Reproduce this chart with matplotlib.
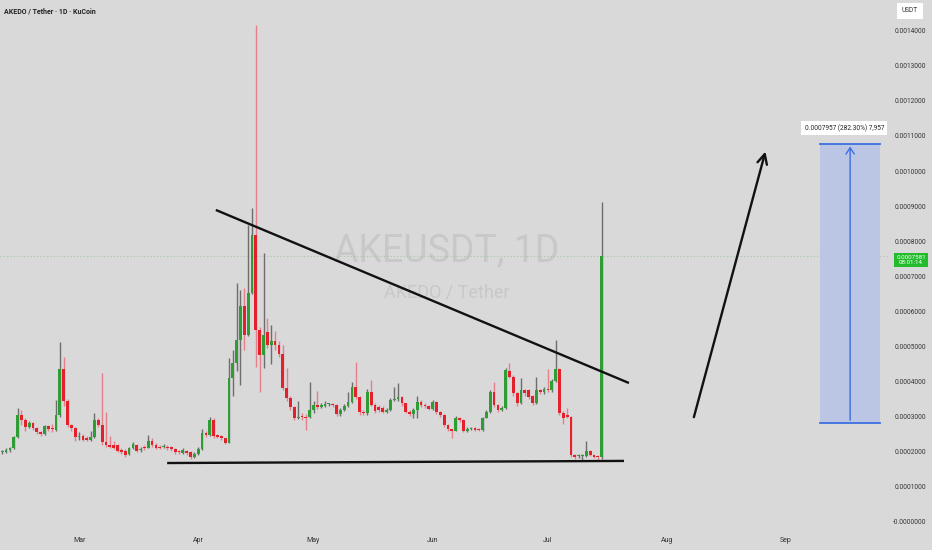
"""AKEDO / Tether daily candles with breakout drawing, TradingView style."""
import numpy as np
import pandas as pd
import matplotlib
matplotlib.use("Agg")
import matplotlib.pyplot as plt
import matplotlib.dates as mdates
from matplotlib.transforms import blended_transform_factory

# daily candles, prices in units of 1e-4 USDT
first_day = "2025-02-09"
opens = [
    2.0, 2.0, 2.05, 2.1, 2.43, 3.06, 2.9, 2.72, 2.83, 2.68, 2.55, 2.5, 2.73, 2.66, 2.62, 3.06, 4.36, 3.46, 2.76, 2.68,
    2.42, 2.45, 2.4, 2.35, 2.43, 2.9, 2.76, 2.27, 2.2, 2.18, 2.18, 2.05, 2.03, 1.95, 2.1, 2.18, 2.05, 2.12, 2.12, 2.32,
    2.2, 2.13, 2.13, 2.13, 2.13, 2.08, 2.0, 1.98, 2.03, 1.99, 1.86, 1.95,
    2.08, 2.53, 2.48, 2.9, 2.47, 2.45, 2.39, 2.26, 4.09, 4.52, 5.19, 6.15, 5.33, 6.53, 8.18, 5.47, 4.76, 5.4,
    5.04, 5.16, 5.04, 4.8, 3.82, 3.53, 3.28, 2.97, 3.02, 3.0, 2.98, 3.19, 3.33, 3.29, 3.31, 3.35, 3.36, 3.33, 3.08, 3.2,
    3.3, 3.43, 3.86, 3.57, 3.12, 3.1, 3.71, 3.33, 3.28, 3.25, 3.13, 3.2, 3.48, 3.5,
    3.57, 3.38, 3.14, 3.07, 3.2, 3.43, 3.33, 3.3, 3.23, 3.43, 3.13, 3.05, 2.76, 2.64, 2.6, 2.97, 2.9, 2.6, 2.65, 2.67,
    2.64, 2.62, 2.97, 3.14, 3.71, 3.33, 3.2, 3.25, 4.3, 4.14, 3.67, 3.38, 3.76, 3.76, 3.6, 3.38, 3.76, 3.7, 3.8, 3.75,
    4.03, 4.35, 3.11, 3.05, 3.0, 1.91, 1.87, 1.88, 1.88, 2.03, 1.92, 1.86, 1.85,
]
highs = [
    2.05, 2.1, 2.15, 2.45, 3.25, 3.2, 2.95, 2.88, 2.85, 2.7, 2.6, 2.76, 2.76, 2.78, 3.47, 5.14, 4.7, 3.5, 2.8, 2.7,
    2.55, 2.5, 2.45, 2.6, 3.1, 2.95, 4.24, 3.14, 2.45, 2.3, 2.22, 2.1, 2.08, 2.15, 2.28, 2.22, 2.15, 2.2, 2.47, 2.38,
    2.25, 2.2, 2.22, 2.18, 2.16, 2.12, 2.05, 2.1, 2.06, 2.02, 2.0, 2.15,
    2.65, 2.6, 3.0, 2.95, 2.5, 2.48, 2.4, 4.67, 4.9, 6.8, 6.6, 6.67, 8.46, 8.94, 14.16, 5.55, 7.65, 5.8,
    5.6, 5.45, 5.15, 5.05, 4.4, 3.6, 3.3, 3.45, 3.1, 3.08, 3.98, 3.45, 3.72, 3.38, 3.46, 3.4, 3.38, 3.36, 3.25, 3.35,
    3.7, 4.0, 4.57, 3.6, 3.2, 3.8, 4.05, 3.38, 3.32, 3.3, 3.25, 3.52, 3.85, 3.95,
    3.6, 3.4, 3.18, 3.25, 3.6, 3.48, 3.38, 3.32, 3.48, 3.45, 3.15, 3.08, 2.8, 2.66, 3.02, 3.0, 2.93, 2.7, 2.72, 2.7,
    2.67, 3.0, 3.2, 3.76, 4.0, 3.36, 3.3, 4.4, 4.52, 4.18, 3.7, 4.1, 3.8, 3.8, 3.63, 4.12, 3.8, 3.85, 4.35, 4.08,
    5.18, 4.4, 3.15, 3.25, 3.02, 1.95, 1.95, 1.93, 2.3, 2.05, 1.95, 1.9, 9.12,
]
lows = [
    1.95, 1.98, 2.0, 2.08, 2.4, 2.75, 2.6, 2.68, 2.62, 2.5, 2.45, 2.48, 2.6, 2.55, 2.58, 3.0, 3.3, 2.7, 2.6, 2.3,
    2.35, 2.3, 2.3, 2.3, 2.4, 2.7, 2.2, 2.15, 2.1, 2.08, 2.0, 1.95, 1.85, 1.92, 2.08, 2.0, 2.0, 2.05, 2.1, 2.15,
    2.08, 2.08, 2.1, 2.05, 2.02, 1.95, 1.95, 1.95, 1.92, 1.8, 1.82, 1.92,
    2.05, 2.42, 2.45, 2.4, 2.38, 2.35, 2.22, 2.24, 3.6, 4.3, 3.9, 4.9, 5.3, 6.5, 4.42, 3.71, 4.4, 4.95,
    4.5, 4.9, 4.7, 3.75, 3.45, 3.2, 2.9, 2.93, 2.92, 2.62, 2.95, 3.1, 3.22, 3.25, 3.28, 3.3, 3.28, 3.02, 3.02, 3.15,
    3.28, 3.4, 3.5, 3.05, 3.05, 3.05, 3.3, 3.1, 3.12, 3.1, 3.1, 3.15, 3.45, 3.45,
    3.3, 3.1, 3.02, 2.95, 2.96, 3.28, 3.25, 3.18, 3.2, 3.08, 3.0, 2.7, 2.58, 2.38, 2.58, 2.85, 2.55, 2.57, 2.62, 2.58,
    2.58, 2.6, 2.95, 3.1, 3.28, 3.12, 3.15, 3.22, 4.1, 3.6, 3.3, 3.35, 3.6, 3.5, 3.33, 3.35, 3.65, 3.65, 3.7, 3.7,
    4.0, 3.05, 2.78, 2.95, 1.85, 1.8, 1.83, 1.75, 1.86, 1.88, 1.82, 1.76, 1.8,
]
closes = [
    2.0, 2.05, 2.1, 2.43, 3.06, 2.9, 2.72, 2.83, 2.68, 2.55, 2.5, 2.73, 2.65, 2.65, 3.06, 4.36, 3.46, 2.76, 2.68, 2.41,
    2.43, 2.34, 2.33, 2.43, 2.9, 2.76, 2.27, 2.2, 2.14, 2.12, 2.03, 1.99, 1.91, 2.1, 2.22, 2.03, 2.08, 2.1, 2.3, 2.2,
    2.12, 2.12, 2.14, 2.12, 2.08, 1.99, 1.99, 2.05, 1.97, 1.86, 1.95, 2.08,
    2.53, 2.48, 2.9, 2.45, 2.43, 2.39, 2.26, 4.09, 4.52, 5.19, 6.15, 5.33, 6.53, 8.18, 5.47, 4.76, 5.33, 5.04,
    5.16, 5.04, 4.8, 3.82, 3.53, 3.28, 2.96, 3.0, 2.98, 2.95, 3.19, 3.33, 3.28, 3.3, 3.35, 3.36, 3.33, 3.08, 3.2, 3.3,
    3.43, 3.86, 3.57, 3.14, 3.1, 3.71, 3.33, 3.15, 3.2, 3.13, 3.2, 3.48, 3.5, 3.57,
    3.38, 3.14, 3.07, 3.2, 3.43, 3.33, 3.3, 3.23, 3.43, 3.13, 3.05, 2.76, 2.64, 2.6, 2.97, 2.9, 2.6, 2.65, 2.67, 2.62,
    2.62, 2.97, 3.14, 3.71, 3.33, 3.19, 3.25, 4.33, 4.14, 3.67, 3.38, 3.76, 3.67, 3.57, 3.38, 3.76, 3.7, 3.8, 3.75, 4.03,
    4.35, 3.11, 2.95, 3.0, 1.91, 1.86, 1.88, 1.88, 2.03, 1.92, 1.85, 1.85, 7.58,
]

# chart settings
ytick_values = [i * 1e-4 for i in range(15)]
ytick_labels = ["-0.0000000"] + [f"{v:.7f}" for v in ytick_values[1:]]
last_price_label = "0.0007581\n08:01:14"
last_price = 7.581e-4

# drawings (date, price)
resistance = [("2025-04-05 14:00", 8.89e-4), ("2025-07-22 02:00", 3.96e-4)]
support = [("2025-03-23 22:00", 1.68e-4), ("2025-07-20 19:00", 1.74e-4)]
arrow_path = [("2025-08-07 19:00", 2.91e-4), ("2025-08-26 19:00", 10.63e-4)]
target_box = ["2025-09-09 19:00", "2025-09-25 12:00", 2.819e-4, 10.776e-4]
target_label = "0.0007957 (282.30%) 7,957"

BG = "#d9d9d9"
UP, DOWN = "#2e9d35", "#e3212c"
UP_WICK, DOWN_WICK = "#6d6d6d", "#e5808a"
FONT = ["Roboto", "DejaVu Sans"]


def dn(s):
    return mdates.date2num(pd.Timestamp(s))


def main():
    o = np.array(opens) * 1e-4
    h = np.array(highs) * 1e-4
    l = np.array(lows) * 1e-4
    c = np.array(closes) * 1e-4
    x = mdates.date2num(pd.date_range(first_day, periods=len(closes), freq="D"))
    up = c >= o

    fig = plt.figure(figsize=(9.32, 5.5), dpi=100, facecolor=BG)
    ax = fig.add_axes([0, 20 / 550, 888 / 932, 530 / 550])
    ax.set_facecolor(BG)
    for s in ax.spines.values():
        s.set_visible(False)

    # watermark
    ax.text(0.503, 0.527, "AKEUSDT, 1D", transform=ax.transAxes, ha="center", va="center",
            fontsize=27, color="#c8c8c8", family=FONT, zorder=0)
    ax.text(0.503, 0.449, "AKEDO / Tether", transform=ax.transAxes, ha="center", va="center",
            fontsize=13, color="#c8c8c8", family=FONT, zorder=0)

    # last price dotted line
    ax.axhline(last_price, color="#a9c4a6", lw=0.8, ls=(0, (1, 2)), zorder=1)

    # candles
    ax.vlines(x[up], l[up], h[up], color=UP_WICK, lw=1.0, zorder=2)
    ax.vlines(x[~up], l[~up], h[~up], color=DOWN_WICK, lw=1.0, zorder=2)
    body = np.maximum(np.abs(c - o), 0.03e-4)
    ax.bar(x[up], body[up], bottom=np.minimum(o, c)[up], width=0.72, color=UP, lw=0, zorder=3)
    ax.bar(x[~up], body[~up], bottom=np.minimum(o, c)[~up], width=0.72, color=DOWN, lw=0, zorder=3)

    # trend lines
    for seg in (resistance, support):
        ax.plot([dn(seg[0][0]), dn(seg[1][0])], [seg[0][1], seg[1][1]], color="#111111", lw=1.7, zorder=4,
                solid_capstyle="butt")

    # projection arrow
    ax.annotate("", xy=(dn(arrow_path[1][0]), arrow_path[1][1]), xytext=(dn(arrow_path[0][0]), arrow_path[0][1]),
                arrowprops=dict(arrowstyle="->,head_length=0.7,head_width=0.35", color="#111111", lw=1.7),
                zorder=4)

    # target range box
    x0, x1 = dn(target_box[0]), dn(target_box[1])
    y0, y1 = target_box[2], target_box[3]
    ax.fill_between([x0, x1], y0, y1, color="#bac6e4", lw=0, zorder=2)
    ax.plot([x0, x1], [y0, y0], color="#3d6fe0", lw=1.3, zorder=3)
    ax.plot([x0, x1], [y1, y1], color="#3d6fe0", lw=1.3, zorder=3)
    xm = (x0 + x1) / 2
    ax.annotate("", xy=(xm, y1), xytext=(xm, y0),
                arrowprops=dict(arrowstyle="->,head_length=0.45,head_width=0.3", color="#3d6fe0", lw=1.0),
                zorder=3)
    ax.text(xm - 1.5, y1 + 0.44e-4, target_label, ha="center", va="center", fontsize=4.7, color="#222222",
            family=FONT, zorder=5,
            bbox=dict(boxstyle="square,pad=0.5", fc="white", ec="none"))

    # axes
    ax.set_xlim(dn("2025-02-08 10:00"), dn("2025-09-27 12:00"))
    ax.set_ylim(-8 / 351000, 522 / 351000)
    ax.xaxis.set_major_locator(mdates.MonthLocator(bymonth=range(3, 10)))
    ax.xaxis.set_major_formatter(mdates.DateFormatter("%b"))
    ax.tick_params(axis="x", length=0, pad=5, labelsize=5.0, labelcolor="#333333")
    ax.yaxis.tick_right()
    ax.set_yticks(ytick_values, ytick_labels)
    ax.tick_params(axis="y", length=0, pad=27.4, labelsize=4.7, labelcolor="#333333")
    for lbl in ax.get_yticklabels() + ax.get_xticklabels():
        lbl.set_family(FONT)
    for lbl in ax.get_yticklabels():
        lbl.set_horizontalalignment("right")

    # header and price scale badges
    fig.text(4 / 932, 1 - 11 / 550, "AKEDO / Tether · 1D · KuCoin", ha="left", va="center", fontsize=5.0,
             fontweight="bold", color="#222222", family=FONT)
    fig.text(910 / 932, 1 - 11 / 550, "USDT", ha="center", va="center", fontsize=4.7, color="#333333",
             family=FONT, bbox=dict(boxstyle="square,pad=0.7", fc="white", ec="none"))
    tr = blended_transform_factory(ax.transAxes, ax.transData)
    ax.text(1.026, last_price - 0.12e-4, last_price_label, transform=tr, ha="center", va="center", fontsize=4.5,
            color="white", family=FONT, linespacing=1.15, clip_on=False, zorder=6,
            bbox=dict(boxstyle="square,pad=0.3", fc="#22bb2c", ec="none"))

    fig.savefig("out.png", dpi=100, facecolor=BG)
    plt.close(fig)


if __name__ == "__main__":
    main()
